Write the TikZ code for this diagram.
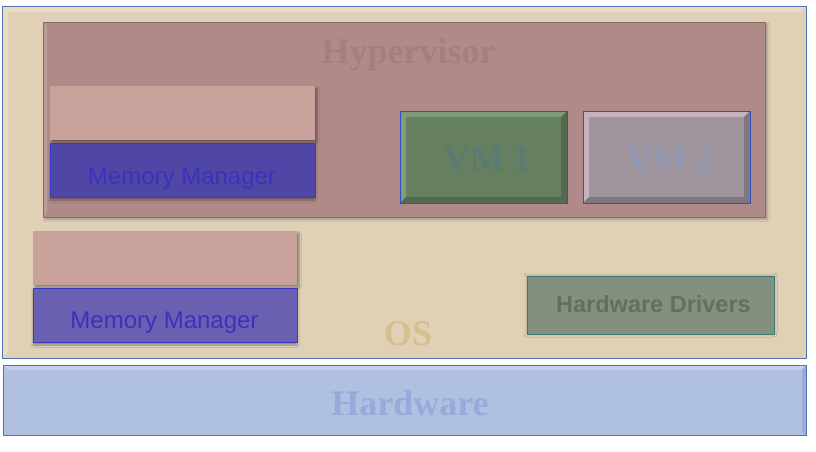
\documentclass[tikz,border=0pt]{standalone}
\usepackage{fontspec}
\setmainfont{Liberation Serif}
\setsansfont{Liberation Sans}
\usetikzlibrary{shadows.blur}
\definecolor{osfill}{HTML}{E0D0B5}
\definecolor{osdraw}{HTML}{5070B0}
\definecolor{oslight}{HTML}{EBDCC3}
\definecolor{ostext}{HTML}{D6BF8E}
\definecolor{hypfill}{HTML}{B08A88}
\definecolor{hypdraw}{HTML}{7A7068}
\definecolor{hyptext}{HTML}{A38080}
\definecolor{pinkfill}{HTML}{C8A29A}
\definecolor{memhfill}{HTML}{5046A6}
\definecolor{memofill}{HTML}{6A60B2}
\definecolor{memdraw}{HTML}{3838C0}
\definecolor{memtext}{HTML}{3A32BC}
\definecolor{vmonefill}{HTML}{657F60}
\definecolor{vmonetext}{HTML}{5A7A74}
\definecolor{vmonelight}{HTML}{7E9C78}
\definecolor{vmonedark}{HTML}{546A50}
\definecolor{vmtwofill}{HTML}{A0949C}
\definecolor{vmtwotext}{HTML}{9098B4}
\definecolor{vmtwolight}{HTML}{C4B2BE}
\definecolor{vmtwodark}{HTML}{7E7680}
\definecolor{vmdraw}{HTML}{3050C0}
\definecolor{hdfill}{HTML}{84907F}
\definecolor{hddraw}{HTML}{407878}
\definecolor{hdtext}{HTML}{62705F}
\definecolor{hwfill}{HTML}{B0C0E0}
\definecolor{hwdraw}{HTML}{5070C8}
\definecolor{hwtext}{HTML}{98AADA}
\definecolor{hwlight}{HTML}{C4D0EE}
\definecolor{hwdark}{HTML}{9CACD0}
\tikzset{
  box/.style={inner sep=0pt, outer sep=0pt, line width=0.8pt},
  serifbig/.style={inner sep=0pt, anchor=base, font=\fontsize{36}{40}\selectfont\bfseries},
  sanslabel/.style={inner sep=0pt, anchor=base, font=\sffamily\fontsize{24}{28}\selectfont},
  pinkbox/.style={box, fill=pinkfill, minimum width=265pt, minimum height=54pt,
    blur shadow={shadow xshift=2pt, shadow yshift=-2pt, shadow blur radius=2pt, shadow opacity=40}},
}
\begin{document}
\begin{tikzpicture}[x=1pt,y=-1pt]
\useasboundingbox (0,0) rectangle (816,451);
\fill[white] (0,0) rectangle (816,451);
% OS
\node[box, fill=osfill, draw=osdraw, minimum width=804pt, minimum height=352pt] (os) at (404,182) {};
\fill[oslight] (os.north west) -- (os.north east) -- ([shift={(-6,6)}]os.north east) -- ([shift={(6,6)}]os.north west) -- ([shift={(6,-6)}]os.south west) -- (os.south west) -- cycle;
\draw[osdraw, line width=0.8pt] (os.north west) rectangle (os.south east);
\node[serifbig, text=ostext] (ostxt) at (408,345) {OS};
% Hypervisor
\node[box, fill=hypfill, draw=hypdraw, minimum width=722pt, minimum height=195pt,
  blur shadow={shadow xshift=2pt, shadow yshift=-2pt, shadow blur radius=2pt, shadow opacity=30}] (hyp) at (404,119.5) {};
\fill[hypfill!85!white] (hyp.north west) -- ([shift={(4,4)}]hyp.north west) -- ([shift={(4,-4)}]hyp.south west) -- (hyp.south west) -- cycle;
\draw[hypdraw, line width=0.8pt] (hyp.north west) rectangle (hyp.south east);
\node[serifbig, text=hyptext] (hyptxt) at (408.5,63) {Hypervisor};
% Hypervisor internals
\node[pinkbox] (pinkh) at (182.5,113) {};
\node[box, fill=memhfill, draw=memdraw, minimum width=265pt, minimum height=54pt,
  blur shadow={shadow xshift=0pt, shadow yshift=-3pt, shadow blur radius=2pt, shadow opacity=35}] (memh) at (182.5,170) {};
\node[sanslabel, text=memtext] (memhtxt) at (182,184) {Memory Manager};
% VM 1
\node[box, fill=vmonefill, minimum width=167pt, minimum height=92pt] (vmone) at (483.5,157) {};
\fill[vmonelight] (vmone.north west) -- (vmone.north east) -- ([shift={(-6,6)}]vmone.north east) -- ([shift={(6,6)}]vmone.north west) -- ([shift={(6,-6)}]vmone.south west) -- (vmone.south west) -- cycle;
\fill[vmonedark] (vmone.south east) -- (vmone.north east) -- ([shift={(-6,6)}]vmone.north east) -- ([shift={(-6,-6)}]vmone.south east) -- ([shift={(6,-6)}]vmone.south west) -- (vmone.south west) -- cycle;
\draw[vmdraw, line width=0.8pt] (vmone.north west) rectangle (vmone.south east);
\node[serifbig, text=vmonetext] (vmonetxt) at (487.5,170) {VM 1};
% VM 2
\node[box, fill=vmtwofill, minimum width=167pt, minimum height=92pt] (vmtwo) at (666.5,157) {};
\fill[vmtwolight] (vmtwo.north west) -- (vmtwo.north east) -- ([shift={(-6,6)}]vmtwo.north east) -- ([shift={(6,6)}]vmtwo.north west) -- ([shift={(6,-6)}]vmtwo.south west) -- (vmtwo.south west) -- cycle;
\fill[vmtwodark] (vmtwo.south east) -- (vmtwo.north east) -- ([shift={(-6,6)}]vmtwo.north east) -- ([shift={(-6,-6)}]vmtwo.south east) -- ([shift={(6,-6)}]vmtwo.south west) -- (vmtwo.south west) -- cycle;
\draw[vmdraw, line width=0.8pt] (vmtwo.north west) rectangle (vmtwo.south east);
\node[serifbig, text=vmtwotext] (vmtwotxt) at (670,170) {VM 2};
% OS internals
\node[pinkbox, minimum width=264pt] (pinko) at (165,258) {};
\node[box, fill=memofill, draw=memdraw, minimum width=264pt, minimum height=54pt,
  blur shadow={shadow xshift=0pt, shadow yshift=-3pt, shadow blur radius=2pt, shadow opacity=35}] (memo) at (165,315) {};
\node[sanslabel, text=memtext] (memotxt) at (164.5,328) {Memory Manager};
\node[box, fill=hdfill, draw=hddraw, minimum width=247pt, minimum height=58pt,
  blur shadow={shadow xshift=0pt, shadow yshift=0pt, shadow blur radius=3pt, shadow opacity=25}] (hd) at (650.5,305) {};
\node[sanslabel, text=hdtext, font=\sffamily\bfseries\fontsize{23.5}{28}\selectfont] (hdtxt) at (653.5,312) {Hardware Drivers};
% Hardware
\node[box, fill=hwfill, minimum width=803pt, minimum height=70pt] (hw) at (404.5,400) {};
\fill[hwlight] (hw.north west) -- (hw.north east) -- ([shift={(-5,5)}]hw.north east) -- ([shift={(5,5)}]hw.north west) -- cycle;
\fill[hwdark] (hw.south east) -- (hw.north east) -- ([shift={(-4,5)}]hw.north east) -- ([shift={(-4,-3)}]hw.south east) -- cycle;
\draw[hwdraw, line width=0.9pt] (hw.north west) rectangle (hw.south east);
\node[serifbig, text=hwtext] (hwtxt) at (410,415) {Hardware};
\end{tikzpicture}
\end{document}
